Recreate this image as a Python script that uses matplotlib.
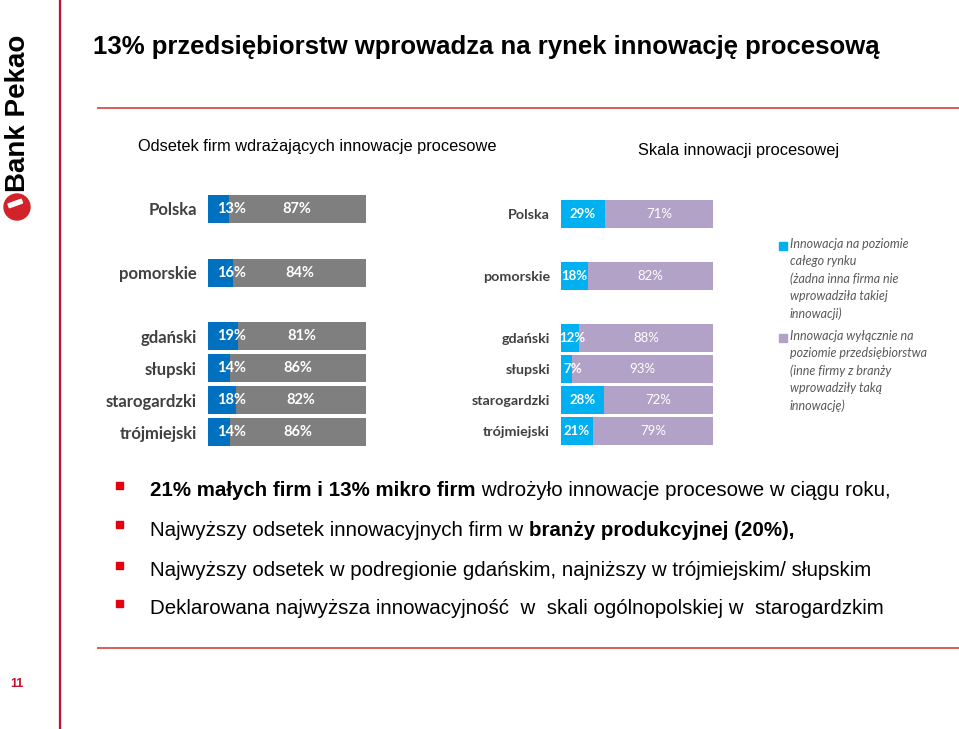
import matplotlib
matplotlib.use("Agg")
import matplotlib.pyplot as plt
from matplotlib.patches import Circle, Rectangle
from matplotlib import font_manager

W, H = 959, 729

# --- data ---
regions = ["Polska", "pomorskie", "gdański", "słupski", "starogardzki", "trójmiejski"]
share_innov = [13, 16, 19, 14, 18, 14]          # firms implementing process innovation
share_rest = [87, 84, 81, 86, 82, 86]
scale_market = [29, 18, 12, 7, 28, 21]           # innovation on whole-market level
scale_firm = [71, 82, 88, 93, 72, 79]            # innovation only on firm level

title = "13% przedsiębiorstw wprowadza na rynek innowację procesową"
sub_left = "Odsetek firm wdrażających innowacje procesowe"
sub_right = "Skala innowacji procesowej"
legend_1 = "Innowacja na poziomie\ncałego rynku\n(żadna inna firma nie\nwprowadziła takiej\ninnowacji)"
legend_2 = "Innowacja wyłącznie na\npoziomie przedsiębiorstwa\n(inne firmy z branży\nwprowadziły taką\ninnowację)"
bullets = [
    [("21% małych firm i 13% mikro firm", "bold"), (" wdrożyło innowacje procesowe w ciągu roku,", "normal")],
    [("Najwyższy odsetek innowacyjnych firm w ", "normal"), ("branży produkcyjnej (20%),", "bold")],
    [("Najwyższy odsetek w podregionie gdańskim, najniższy w trójmiejskim/ słupskim", "normal")],
    [("Deklarowana najwyższa innowacyjność  w  skali ogólnopolskiej w  starogardzkim", "normal")],
]

RED = "#C8102E"
ypos = [0, 2, 4, 5, 6, 7]

fig = plt.figure(figsize=(W / 100, H / 100), dpi=100)
fig.patch.set_facecolor("white")


def fx(x):
    return x / W


def fy(y):
    return 1 - y / H


def px_axes(x0, y0, x1, y1):
    return fig.add_axes([fx(x0), fy(y1), (x1 - x0) / W, (y1 - y0) / H])


# frame lines
bg = fig.add_axes([0, 0, 1, 1])
bg.set_xlim(0, W)
bg.set_ylim(H, 0)
bg.axis("off")
bg.plot([60, 60], [0, H], color=RED, lw=1.6)
bg.plot([98, W], [108, 108], color="#E05A5A", lw=1.4)
bg.plot([98, W], [648, 648], color="#E05A5A", lw=1.4)

# logo
names = {f.name for f in font_manager.fontManager.ttflist}
logo_font = "Liberation Sans Narrow" if "Liberation Sans Narrow" in names else "Liberation Sans"
bg.text(18, 113, "Bank Pekao", rotation=90, ha="center", va="center",
        fontsize=23 if logo_font.endswith("Narrow") else 20, fontweight="bold",
        family=logo_font, color="black")
bg.add_patch(Circle((17, 207), 13, color="#D2232A"))
bg.add_patch(Rectangle((8, 204), 14, 4, angle=-20, color="white"))
bg.text(17, 684, "11", ha="center", va="center", fontsize=9, fontweight="bold",
        color=RED, family="Liberation Sans")

# title & subtitles
fig.text(fx(93), fy(47), title, fontsize=18.5, fontweight="bold", va="center",
         family="Liberation Sans", color="black")
fig.text(fx(138), fy(147), sub_left, fontsize=11.8, va="center",
         family="Liberation Sans", color="black")
fig.text(fx(638), fy(151), sub_right, fontsize=11.8, va="center",
         family="Liberation Sans", color="black")

# left chart
ax1 = px_axes(208, 193, 366, 448)
ax1.barh(ypos, share_innov, height=0.88, color="#0070C0")
ax1.barh(ypos, share_rest, left=share_innov, height=0.88, color="#7F7F7F")
for y, a, b in zip(ypos, share_innov, share_rest):
    ax1.text(14.6, y, f"{a}%", ha="center", va="center", color="white",
             fontsize=10.5, fontweight="bold", family="Lato")
    ax1.text(a + b / 2, y, f"{b}%", ha="center", va="center", color="white",
             fontsize=10.5, fontweight="bold", family="Lato")
ax1.set_xlim(0, 100)
ax1.set_ylim(7.5, -0.5)
ax1.set_yticks(ypos)
ax1.set_yticklabels(regions, fontsize=12, fontweight="bold", family="Lato", color="#404040")
ax1.tick_params(axis="y", length=0, pad=8)
ax1.set_xticks([])
for s in ax1.spines.values():
    s.set_visible(False)

# right chart
ax2 = px_axes(561, 198.5, 713, 446.5)
ax2.barh(ypos, scale_market, height=0.9, color="#00B0F0")
ax2.barh(ypos, scale_firm, left=scale_market, height=0.9, color="#B3A2C7")
for y, a, b in zip(ypos, scale_market, scale_firm):
    ax2.text(max(a / 2, 7.5), y, f"{a}%", ha="center", va="center", color="white",
             fontsize=9.5, fontweight="bold", family="Lato")
    ax2.text(a + b / 2, y, f"{b}%", ha="center", va="center", color="white",
             fontsize=9.5, family="Lato")
ax2.set_xlim(0, 100)
ax2.set_ylim(7.5, -0.5)
ax2.set_yticks(ypos)
ax2.set_yticklabels(regions, fontsize=10.3, fontweight="bold", family="Lato", color="#404040")
ax2.tick_params(axis="y", length=0, pad=8)
ax2.set_xticks([])
for s in ax2.spines.values():
    s.set_visible(False)

# legend
bg.add_patch(Rectangle((779, 242), 8, 8, color="#00B0F0"))
bg.add_patch(Rectangle((779, 334), 8, 8, color="#B3A2C7"))
bg.text(790, 238, legend_1, ha="left", va="top", fontsize=9, style="italic",
        family="Lato", color="#595959", linespacing=1.5)
bg.text(790, 330, legend_2, ha="left", va="top", fontsize=9, style="italic",
        family="Lato", color="#595959", linespacing=1.5)

# bullet points
renderer = fig.canvas.get_renderer()
for i, parts in enumerate(bullets):
    y = [490, 529, 570, 608][i]
    bg.add_patch(Rectangle((116, y - 8), 7, 7, color="#E3000F"))
    x = 150
    for txt, weight in parts:
        t = fig.text(fx(x), fy(y + 1), txt, fontsize=14.8, fontweight=weight, va="center",
                     family="Liberation Sans", color="black")
        bb = t.get_window_extent(renderer)
        x += bb.width

fig.savefig("out.png", dpi=100)
